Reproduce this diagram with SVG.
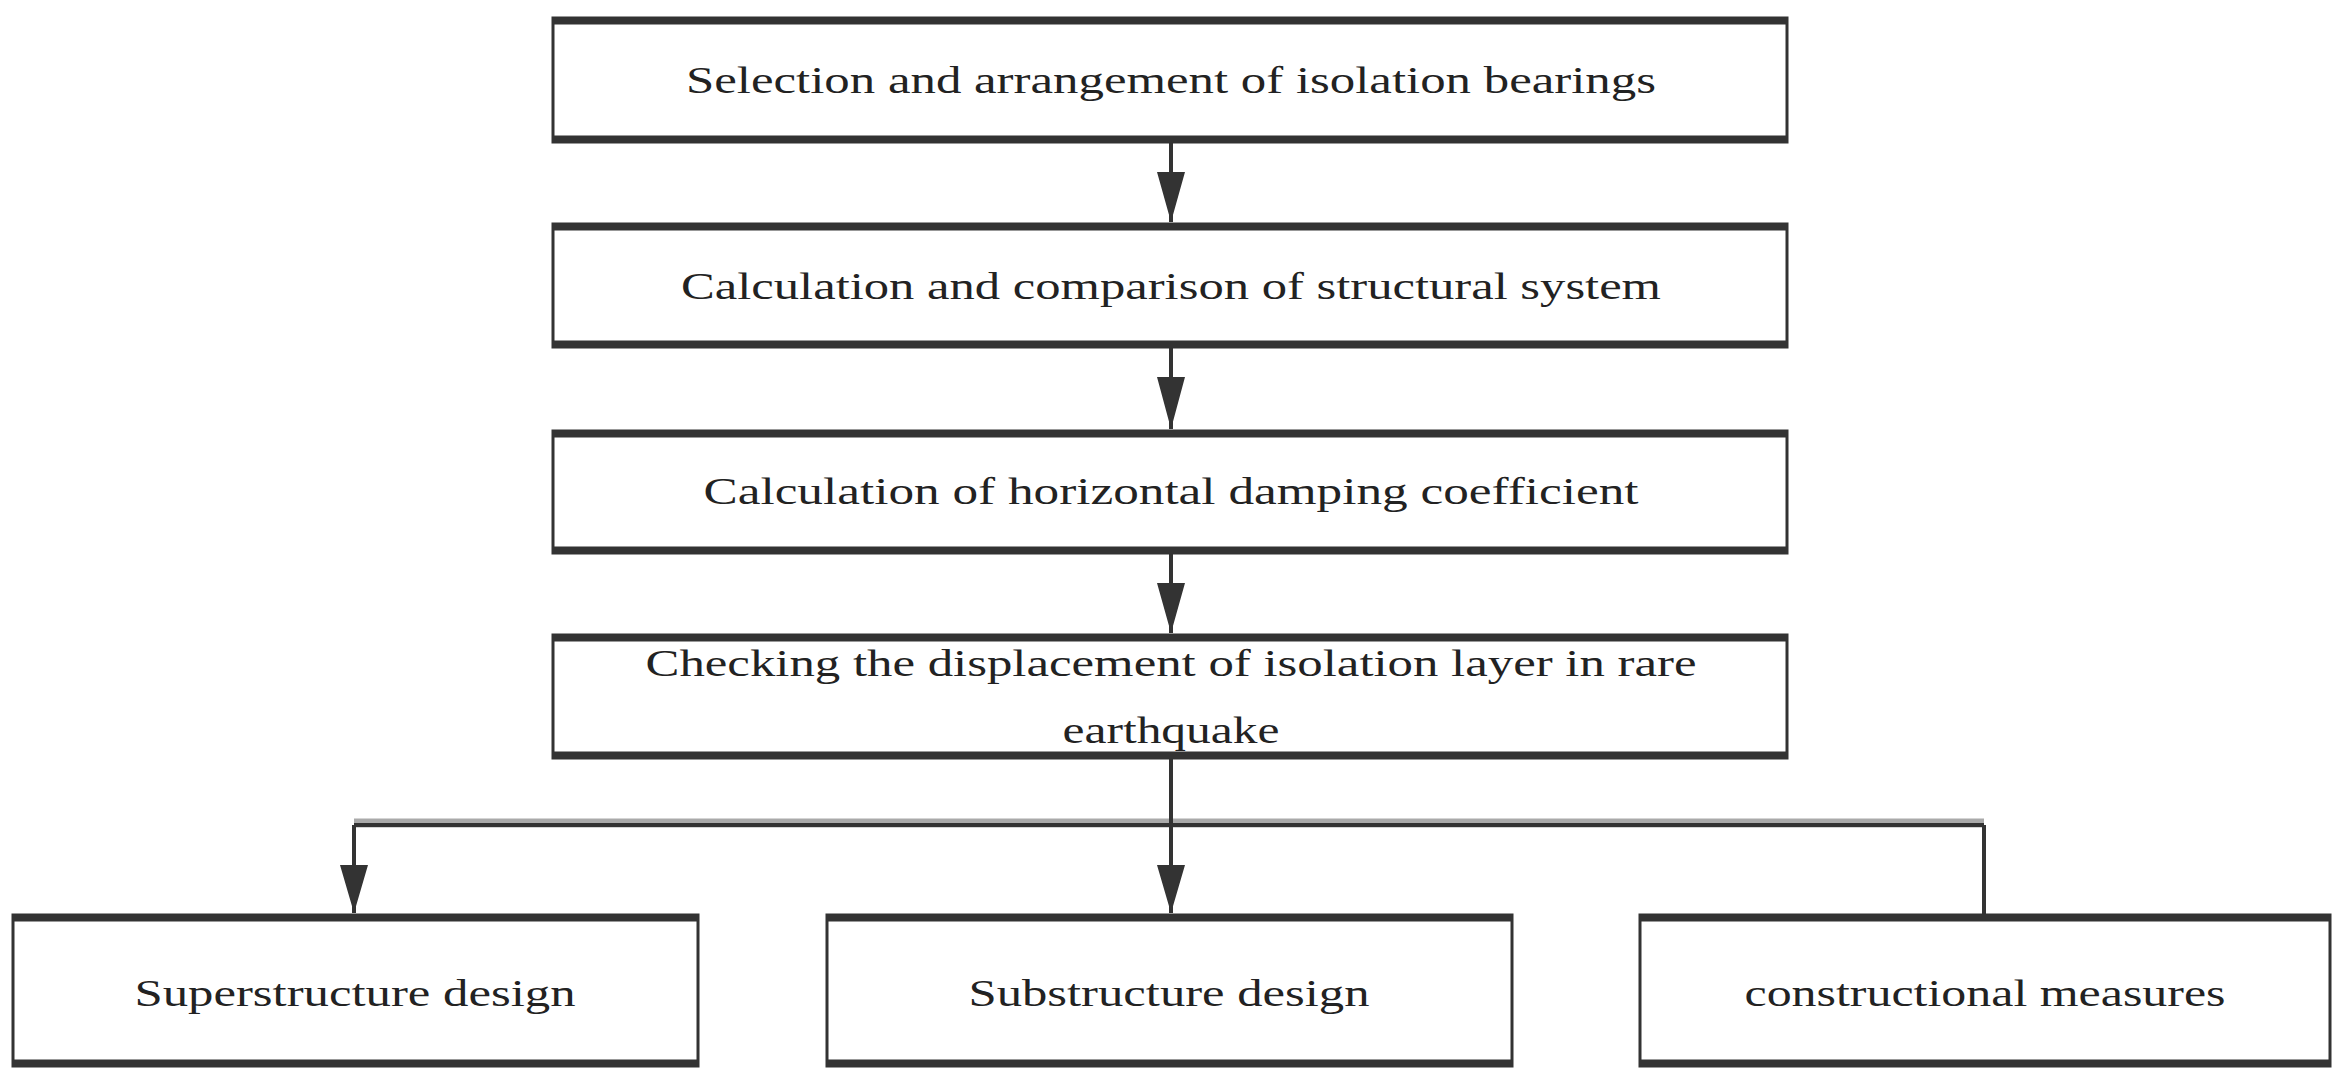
<svg xmlns="http://www.w3.org/2000/svg" width="2337" height="1083" viewBox="0 0 2337 1083">
<defs>
<style>
.b{fill:#fff;stroke:#333;stroke-width:3}
.tb{stroke:#333;stroke-width:7}
.t{font-family:"Liberation Serif",serif;font-size:38px;fill:#222;text-anchor:middle}
.c{stroke:#333;stroke-width:4;fill:none}
</style>
<marker id="a" markerWidth="10" markerHeight="24" refX="5" refY="24" orient="auto-start-reverse" markerUnits="userSpaceOnUse" viewBox="0 0 10 24"><path d="M0,0 L10,0 L5,24 Z" fill="#333"/></marker>
</defs>
<rect width="2337" height="1083" fill="#fff"/>
<g id="connectors">
<line class="c" x1="1171" y1="142" x2="1171" y2="220" marker-end="url(#ar)"/>
<path class="c" d="M1171 142V222M1171 347V429M1171 553V633"/>
<path d="M1157 172h28l-14 50z M1157 377h28l-14 52z M1157 583h28l-14 50z" fill="#333"/>
<line x1="354" y1="823" x2="1984" y2="823" stroke="#aaa" stroke-width="9"/>
<line x1="354" y1="825" x2="1984" y2="825" stroke="#333" stroke-width="4"/>
<path class="c" d="M1171 758V913M354 825V913M1984 825V915"/>
<path d="M340 865h28l-14 48z M1157 865h28l-14 48z" fill="#333"/>
</g>
<g id="n1"><rect class="b" x="553" y="18" width="1234" height="124"/><path class="tb" d="M553 21H1787M553 139H1787"/><text class="t" x="1171" y="93" textLength="970" lengthAdjust="spacingAndGlyphs">Selection and arrangement of isolation bearings</text></g>
<g id="n2"><rect class="b" x="553" y="224" width="1234" height="123"/><path class="tb" d="M553 227H1787M553 344H1787"/><text class="t" x="1171" y="299" textLength="980" lengthAdjust="spacingAndGlyphs">Calculation and comparison of structural system</text></g>
<g id="n3"><rect class="b" x="553" y="431" width="1234" height="122"/><path class="tb" d="M553 434H1787M553 550H1787"/><text class="t" x="1171" y="504" textLength="935" lengthAdjust="spacingAndGlyphs">Calculation of horizontal damping coefficient</text></g>
<g id="n4"><rect class="b" x="553" y="635" width="1234" height="123"/><path class="tb" d="M553 638H1787M553 755H1787"/><text class="t" x="1171" y="676" textLength="1051" lengthAdjust="spacingAndGlyphs">Checking the displacement of isolation layer in rare</text><text class="t" x="1171" y="743" textLength="217" lengthAdjust="spacingAndGlyphs">earthquake</text></g>
<g id="n5"><rect class="b" x="13" y="915" width="685" height="151"/><path class="tb" d="M13 918H698M13 1063H698"/><text class="t" x="355" y="1006" textLength="441" lengthAdjust="spacingAndGlyphs">Superstructure design</text></g>
<g id="n6"><rect class="b" x="827" y="915" width="685" height="151"/><path class="tb" d="M827 918H1512M827 1063H1512"/><text class="t" x="1169" y="1006" textLength="401" lengthAdjust="spacingAndGlyphs">Substructure design</text></g>
<g id="n7"><rect class="b" x="1640" y="915" width="690" height="151"/><path class="tb" d="M1640 918H2330M1640 1063H2330"/><text class="t" x="1985" y="1006" textLength="481" lengthAdjust="spacingAndGlyphs">constructional measures</text></g>
</svg>
